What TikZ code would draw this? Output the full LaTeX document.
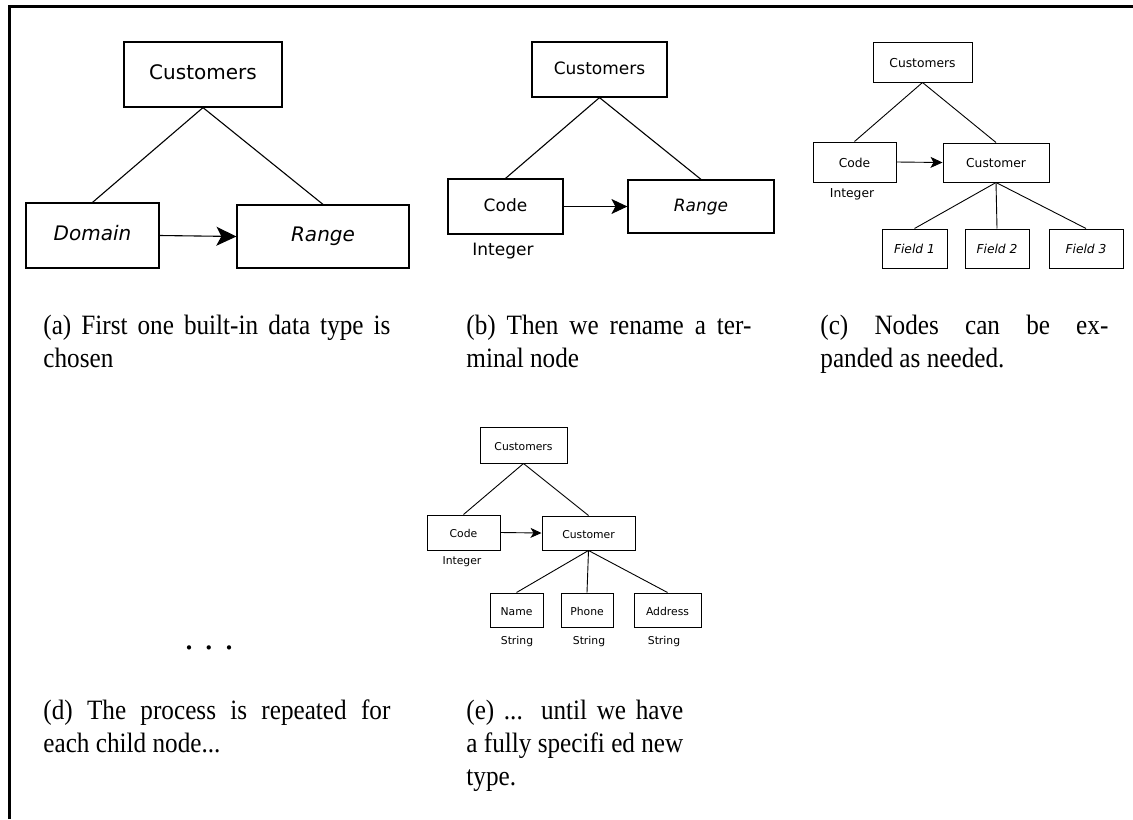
\documentclass[tikz,border=0pt]{standalone}
\usepackage{fontspec}
\setmainfont{Liberation Serif}
\newfontfamily\boxfont{DejaVu Sans}[ItalicFont={DejaVu Sans Oblique}]
\usetikzlibrary{arrows.meta,positioning}
\newcommand\capbox[2]{\scalebox{0.9}[1]{\parbox[t]{#1}{#2}}}
\tikzset{
    >=Stealth,
    box/.style={
        rectangle,
        draw=black, line width=0.6pt,
        inner sep=0pt,
        text height=1.45ex, text depth=0.35ex,
        text centered
    },
    boxa/.style={box, font=\boxfont\fontsize{10}{12}\selectfont},
    boxb/.style={box, font=\boxfont\fontsize{8.5}{10}\selectfont},
    boxc/.style={box, line width=0.5pt, font=\boxfont\fontsize{6.15}{7}\selectfont},
    boxe/.style={box, line width=0.5pt, font=\boxfont\fontsize{5.4}{6}\selectfont},
    tag/.style={inner sep=0pt},
    line/.style={draw, line width=0.55pt},
    thinline/.style={draw, line width=0.45pt},
    caption/.style={
        anchor=base west,
        inner sep=0pt,
        font=\fontsize{14}{16.5}\selectfont
    }
}
\begin{document}
\begin{tikzpicture}[x=0.5pt, y=-0.5pt]
    \useasboundingbox (0,0) rectangle (1133,819);
    \draw[line width=1.5pt] (9,819) -- (9,6) -- (1133,6);

    % (a)
    \node[boxa, minimum width=79pt, minimum height=32.5pt] (aroot) at (203,74.5) {Customers};
    \node[boxa, minimum width=66.5pt, minimum height=32.5pt] (adom) at (92.5,235.5) {\itshape Domain};
    \node[boxa, minimum width=86pt, minimum height=31.5pt] (aran) at (323,236.5) {\itshape Range};
    \draw[line] (aroot.south) -- (adom.north);
    \draw[line] (aroot.south) -- (aran.north);
    \draw[line, -{Stealth[length=10pt, width=9.5pt, inset=2.5pt]}] (adom.east) -- (aran.west);

    % (b)
    \node[boxb, minimum width=67.5pt, minimum height=27.5pt] (broot) at (599.5,69.5) {Customers};
    \node[boxb, minimum width=57.5pt, minimum height=27.5pt] (bcode) at (505.5,206.5) {Code};
    \node[boxb, minimum width=73pt, minimum height=26.5pt] (bran) at (701,206.5) {\itshape Range};
    \node[tag, font=\boxfont\fontsize{8.5}{10}\selectfont] (bint) at (503,251) {Integer};
    \draw[line] (broot.south) -- (bcode.north);
    \draw[line] (broot.south) -- (bran.north);
    \draw[line, -{Stealth[length=8pt, width=7.5pt, inset=2pt]}] (bcode.east) -- (bran.west);

    % (c)
    \node[boxc, minimum width=49.5pt, minimum height=20pt] (croot) at (922.5,62) {Customers};
    \node[boxc, minimum width=41.5pt, minimum height=20pt] (ccode) at (854.5,162) {Code};
    \node[boxc, minimum width=53pt, minimum height=19.5pt] (ccust) at (996,162.5) {Customer};
    \node[tag, font=\boxfont\fontsize{6.15}{7}\selectfont] (cint) at (852,194) {Integer};
    \node[boxc, minimum width=32.5pt, minimum height=19.5pt] (cf1) at (914.5,248.5) {\itshape Field 1};
    \node[boxc, minimum width=32pt, minimum height=19.5pt] (cf2) at (997,248.5) {\itshape Field 2};
    \node[boxc, minimum width=37pt, minimum height=19.5pt] (cf3) at (1086,248.5) {\itshape Field 3};
    \draw[thinline] (croot.south) -- (ccode.north);
    \draw[thinline] (croot.south) -- (ccust.north);
    \draw[thinline, -{Stealth[length=6pt, width=5.5pt, inset=1.5pt]}] (ccode.east) -- (ccust.west);
    \foreach \f in {cf1,cf2,cf3}
        \draw[thinline] (ccust.south) -- (\f.north);

    % (d)
    \node[tag, font=\fontsize{18}{20}\selectfont] (ddots) at (209,648) {.\hspace{5.5pt}.\hspace{5.5pt}.};

    % (e)
    \node[boxe, minimum width=43.5pt, minimum height=18pt] (eroot) at (523.5,445) {Customers};
    \node[boxe, minimum width=36.5pt, minimum height=17.5pt] (ecode) at (463.5,532.5) {Code};
    \node[boxe, minimum width=46.5pt, minimum height=17pt] (ecust) at (588.5,533) {Customer};
    \node[tag, font=\boxfont\fontsize{5.4}{6}\selectfont] (eint) at (462,562) {Integer};
    \node[boxe, minimum width=26.5pt, minimum height=17pt] (ename) at (516.5,610) {Name};
    \node[boxe, minimum width=26pt, minimum height=17pt] (ephone) at (587,610) {Phone};
    \node[boxe, minimum width=33.5pt, minimum height=17pt] (eaddr) at (667.5,610) {Address};
    \foreach \f/\x in {ename/517,ephone/589,eaddr/664}
        \node[tag, font=\boxfont\fontsize{5.4}{6}\selectfont] (\f-type) at (\x,642) {String};
    \draw[thinline] (eroot.south) -- (ecode.north);
    \draw[thinline] (eroot.south) -- (ecust.north);
    \draw[thinline, -{Stealth[length=5.5pt, width=5pt, inset=1.5pt]}] (ecode.east) -- (ecust.west);
    \foreach \f in {ename,ephone,eaddr}
        \draw[thinline] (ecust.south) -- (\f.north);

    % captions
    \node[caption] (capa) at (43,334) {\capbox{192.8pt}{(a) First one built-in data type is\linebreak chosen}};
    \node[caption] (capb) at (466,334) {\capbox{158.3pt}{(b) Then we rename a ter-\linebreak minal node}};
    \node[caption] (capc) at (820,334) {\capbox{160pt}{(c) Nodes can be ex-\linebreak panded as needed.}};
    \node[caption] (capd) at (43,719) {\capbox{192.8pt}{(d) The process is repeated for\linebreak each child node...}};
    \node[caption] (cape) at (466,719) {\capbox{120.5pt}{(e) ... until we have\linebreak a fully specifi ed new\linebreak type.}};
\end{tikzpicture}
\end{document}
